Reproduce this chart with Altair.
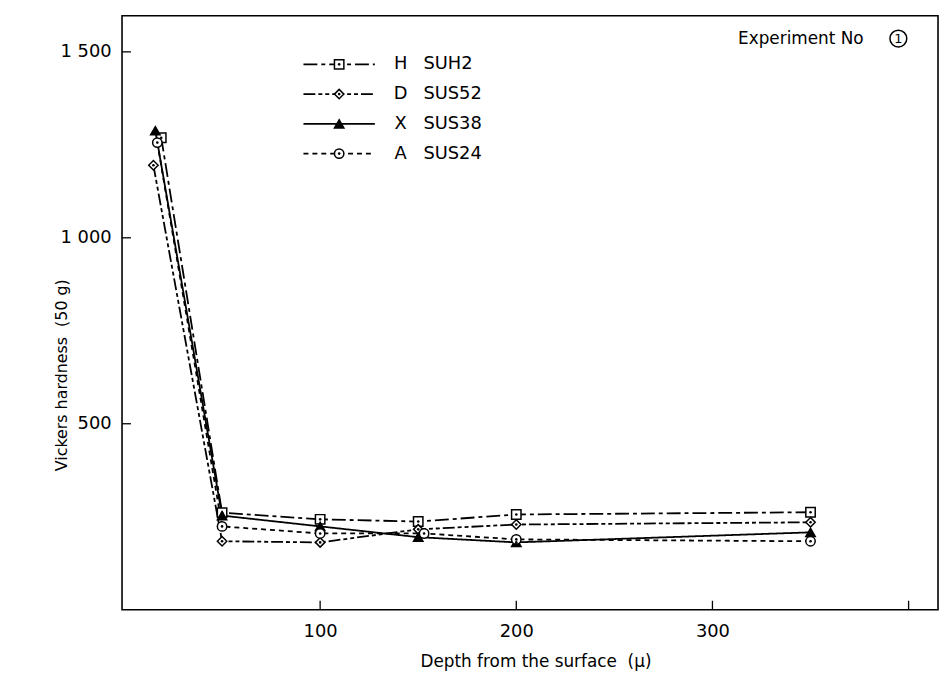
import altair as alt
import pandas as pd

# ---- data ----
series_names = ["SUH2", "SUS52", "SUS38", "SUS24"]
series_codes = ["H", "D", "X", "A"]

suh2_depth = [19, 50, 100, 150, 200, 350]
suh2_hv = [1269, 261, 243, 237, 256, 262]

sus52_depth = [15, 50, 100, 150, 200, 350]
sus52_hv = [1195, 184, 181, 216, 229, 235]

sus38_depth = [16, 50, 100, 150, 200, 350]
sus38_hv = [1288, 253, 224, 195, 181, 208]

sus24_depth = [17, 50, 100, 153, 200, 350]
sus24_hv = [1256, 224, 205, 205, 189, 184]

x_ticks = [100, 200, 300, 400]
y_ticks = [500, 1000, 1500]

# ---- build table ----
rows = []
for name, xs_, ys_ in [
    ("SUH2", suh2_depth, suh2_hv),
    ("SUS52", sus52_depth, sus52_hv),
    ("SUS38", sus38_depth, sus38_hv),
    ("SUS24", sus24_depth, sus24_hv),
]:
    for x, y in zip(xs_, ys_):
        rows.append({"series": name, "depth": x, "hv": y})
df = pd.DataFrame(rows)

W, H = 823, 599
FONT = "DejaVu Sans"
NB = "\u00a0"

dash_scale = alt.Scale(
    domain=series_names,
    range=[[14, 4, 4, 4], [12, 3, 4, 3, 4, 3], [1, 0], [5, 4]],
)
shape_scale = alt.Scale(
    domain=series_names, range=["square", "diamond", "triangle-up", "circle"]
)
fill_scale = alt.Scale(domain=series_names, range=["white", "white", "black", "white"])

xs = alt.Scale(domain=[-1, 415], nice=False, zero=False)
ys = alt.Scale(domain=[0, 1597], nice=False, zero=False)

x_title = "Depth" + NB + "from" + NB + "the" + NB + "surface" + NB * 2 + "(\u03bc)"
y_title = "Vickers" + NB + "hardness" + NB * 2 + "(50" + NB + "g)"

x_enc = alt.X(
    "depth:Q",
    scale=xs,
    axis=alt.Axis(
        values=x_ticks,
        labelExpr="datum.value == 400 ? '' : datum.label",
        ticks=False,
        domain=False,
        grid=False,
        labelFontSize=18,
        labelFont=FONT,
        labelColor="black",
        labelPadding=13,
        title=x_title,
        titleFont=FONT,
        titleFontSize=17,
        titleFontWeight="normal",
        titleColor="black",
        titleX=417,
        titleY=52,
        titleBaseline="middle",
    ),
)
y_enc = alt.Y(
    "hv:Q",
    scale=ys,
    axis=alt.Axis(
        values=y_ticks,
        labelExpr="replace(format(datum.value, ','), ',', '\u00a0')",
        ticks=False,
        domain=False,
        grid=False,
        labelFontSize=18,
        labelFont=FONT,
        labelColor="black",
        labelPadding=11,
        title=y_title,
        titleFont=FONT,
        titleFontSize=16,
        titleFontWeight="normal",
        titleColor="black",
        titleX=-61,
        titleY=362,
        titleBaseline="middle",
    ),
)

base = alt.Chart(df)

lines = base.mark_line(color="black", strokeWidth=1.8).encode(
    x=x_enc,
    y=y_enc,
    strokeDash=alt.StrokeDash("series:N", scale=dash_scale, legend=None),
    detail="series:N",
)

points = base.mark_point(
    filled=True, stroke="black", strokeWidth=1.5, size=90, opacity=1
).encode(
    x=alt.X("depth:Q", scale=xs),
    y=alt.Y("hv:Q", scale=ys),
    shape=alt.Shape("series:N", scale=shape_scale, legend=None),
    fill=alt.Fill("series:N", scale=fill_scale, legend=None),
)

dots = base.mark_point(filled=True, color="black", size=7, shape="circle", opacity=1).encode(
    x=alt.X("depth:Q", scale=xs),
    y=alt.Y("hv:Q", scale=ys),
)

# ---- tick marks (inward) ----
yt = alt.Chart(pd.DataFrame({"v": y_ticks})).mark_rule(color="black", strokeWidth=1.3).encode(
    y=alt.Y("v:Q", scale=ys), x=alt.value(0), x2=alt.value(9)
)
xt = alt.Chart(pd.DataFrame({"v": x_ticks})).mark_rule(color="black", strokeWidth=1.3).encode(
    x=alt.X("v:Q", scale=xs), y=alt.value(H), y2=alt.value(H - 9)
)

# ---- legend built by hand ----
leg_rows = [49, 79, 109, 139]
leg = pd.DataFrame({"series": series_names, "code": series_codes, "ly": leg_rows})
lbase = alt.Chart(leg)
leg_lines = lbase.mark_rule(color="black", strokeWidth=1.8).encode(
    x=alt.value(183),
    x2=alt.value(255),
    y=alt.Y("ly:Q", scale=None),
    strokeDash=alt.StrokeDash("series:N", scale=dash_scale, legend=None),
)
leg_pts = lbase.mark_point(
    filled=True, stroke="black", strokeWidth=1.5, size=90, opacity=1
).encode(
    x=alt.value(219),
    y=alt.Y("ly:Q", scale=None),
    shape=alt.Shape("series:N", scale=shape_scale, legend=None),
    fill=alt.Fill("series:N", scale=fill_scale, legend=None),
)
leg_dots = lbase.mark_point(filled=True, color="black", size=7, shape="circle", opacity=1).encode(
    x=alt.value(219), y=alt.Y("ly:Q", scale=None)
)
leg_code = lbase.mark_text(font=FONT, fontSize=18, color="black", align="center", baseline="middle").encode(
    x=alt.value(281), y=alt.Y("ly:Q", scale=None), text="code:N"
)
leg_name = lbase.mark_text(font=FONT, fontSize=18, color="black", align="left", baseline="middle").encode(
    x=alt.value(304), y=alt.Y("ly:Q", scale=None), text="series:N"
)

# ---- experiment label ----
exp_text = alt.Chart(pd.DataFrame({"t": ["Experiment" + NB + "No"]})).mark_text(
    font=FONT, fontSize=17, color="black", align="right", baseline="middle"
).encode(x=alt.value(748), y=alt.value(23), text="t:N")
exp_circle = alt.Chart(pd.DataFrame({"t": ["1"]})).mark_point(
    shape="circle", size=289, stroke="black", strokeWidth=1.5, filled=False, opacity=1
).encode(x=alt.value(783), y=alt.value(23))
exp_num = alt.Chart(pd.DataFrame({"t": ["1"]})).mark_text(
    font=FONT, fontSize=13, color="black", align="center", baseline="middle"
).encode(x=alt.value(783), y=alt.value(23.5), text="t:N")

chart = (
    alt.layer(
        lines, points, dots, yt, xt,
        leg_lines, leg_pts, leg_dots, leg_code, leg_name,
        exp_text, exp_circle, exp_num,
    )
    .resolve_scale(strokeDash="shared", shape="shared", fill="shared")
    .properties(
        width=W,
        height=H,
        autosize=alt.AutoSizeParams(type="none"),
        padding={"left": 115, "top": 5, "right": 2, "bottom": 62},
        background="white",
    )
    .configure_view(stroke="black", strokeWidth=1.6)
)

chart.save("out.html", embed_options={"renderer": "svg", "actions": False})
